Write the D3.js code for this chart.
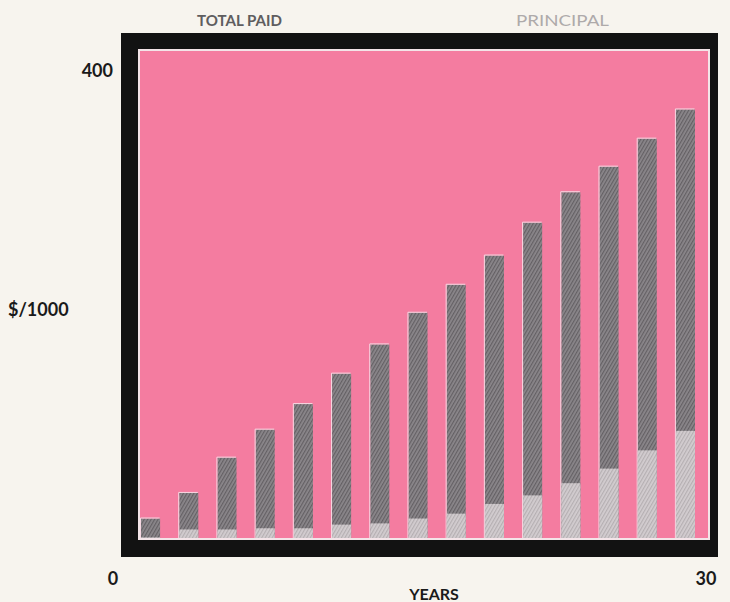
<!DOCTYPE html>
<html>
<head>
<meta charset="utf-8">
<script src="https://cdn.jsdelivr.net/npm/d3@7/dist/d3.min.js"></script>
<style>
  body { margin: 0; background: #f7f4ee; }
  svg { display: block; }
  text { font-family: Lato, "DejaVu Sans", sans-serif; }
</style>
</head>
<body>
<div id="chart"></div>
<script>
// years shown by the bars (every 2 years)
var years = [2, 4, 6, 8, 10, 12, 14, 16, 18, 20, 22, 24, 26, 28, 30];
// total paid, $/1000
var totalPaid = [16, 37, 66, 89, 110, 135, 159, 185, 208, 232, 259, 284, 305, 328, 352];
// principal paid, $/1000
var principal = [0.5, 7, 7, 8, 8, 11, 12, 16, 20, 28, 35, 45, 57, 72, 88];
// axis labels
var yTicks = ["0", "400"];
var xTicks = ["0", "30"];

var W = 730, H = 602;

var svg = d3.select("#chart").append("svg")
    .attr("width", W)
    .attr("height", H);

// hatch patterns for the bars
var defs = svg.append("defs");
function hatch(id, base, line) {
    var p = defs.append("pattern")
        .attr("id", id)
        .attr("patternUnits", "userSpaceOnUse")
        .attr("width", 3)
        .attr("height", 3)
        .attr("patternTransform", "rotate(30)");
    p.append("rect").attr("width", 3).attr("height", 3).attr("fill", base);
    p.append("rect").attr("width", 1.2).attr("height", 3).attr("fill", line);
}
hatch("darkHatch", "#8b878b", "#646064");
hatch("lightHatch", "#d3cdd0", "#b5afb2");

// plot area (pink) inside black frame
var plot = {left: 140, right: 708, top: 51, bottom: 538};

svg.append("rect")
    .attr("x", 121).attr("y", 33)
    .attr("width", 597).attr("height", 524)
    .attr("fill", "#121212");
svg.append("rect")
    .attr("x", plot.left - 2).attr("y", plot.top - 2)
    .attr("width", plot.right - plot.left + 4).attr("height", plot.bottom - plot.top + 4)
    .attr("fill", "#f3e4e8");
svg.append("rect")
    .attr("x", plot.left).attr("y", plot.top)
    .attr("width", plot.right - plot.left).attr("height", plot.bottom - plot.top)
    .attr("fill", "#f47ca0");

// scales
var x = d3.scaleBand()
    .domain(years)
    .range([141, 695])
    .paddingInner(0.5)
    .paddingOuter(0);

var y = d3.scaleLinear()
    .domain([0, 400])
    .range([plot.bottom, plot.top]);

var data = years.map(function (d, i) {
    return {year: d, total: totalPaid[i], principal: principal[i]};
});

// total paid bars
svg.selectAll(".total")
    .data(data)
    .enter()
    .append("rect")
    .attr("class", "total")
    .attr("x", function (d) { return x(d.year); })
    .attr("y", function (d) { return y(d.total); })
    .attr("width", x.bandwidth())
    .attr("height", function (d) { return y(0) - y(d.total); })
    .attr("fill", "url(#darkHatch)");

// small light edge on the left/top of each bar
svg.selectAll(".edge")
    .data(data)
    .enter()
    .append("path")
    .attr("class", "edge")
    .attr("d", function (d) {
        var x0 = x(d.year) - 0.5, y0 = y(d.total) - 0.5;
        return "M" + x0 + "," + y(0) + "V" + y0 + "H" + (x0 + x.bandwidth());
    })
    .attr("fill", "none")
    .attr("stroke", "#f6d8e2")
    .attr("stroke-width", 1);

// principal bars
svg.selectAll(".principal")
    .data(data)
    .enter()
    .append("rect")
    .attr("class", "principal")
    .attr("x", function (d) { return x(d.year); })
    .attr("y", function (d) { return y(d.principal); })
    .attr("width", x.bandwidth())
    .attr("height", function (d) { return y(0) - y(d.principal); })
    .attr("fill", "url(#lightHatch)");

// legend labels
svg.append("text")
    .attr("x", 197).attr("y", 26)
    .attr("textLength", 85).attr("lengthAdjust", "spacingAndGlyphs")
    .attr("font-size", 16).attr("font-weight", "bold")
    .attr("fill", "#5f5d5f")
    .text("TOTAL PAID");

svg.append("text")
    .attr("x", 516).attr("y", 26)
    .attr("textLength", 93).attr("lengthAdjust", "spacingAndGlyphs")
    .attr("font-size", 16)
    .attr("fill", "#aeaaaa")
    .text("PRINCIPAL");

// axis labels
svg.append("text")
    .attr("x", 113).attr("y", 77)
    .attr("text-anchor", "end")
    .attr("font-size", 18).attr("font-weight", "bold")
    .attr("fill", "#1a1a1a")
    .text(yTicks[1]);

svg.append("text")
    .attr("x", 8).attr("y", 316)
    .attr("font-size", 18).attr("font-weight", "bold")
    .attr("fill", "#1a1a1a")
    .text("$/1000");

svg.append("text")
    .attr("x", 113).attr("y", 585)
    .attr("text-anchor", "middle")
    .attr("font-size", 18).attr("font-weight", "bold")
    .attr("fill", "#1a1a1a")
    .text(xTicks[0]);

svg.append("text")
    .attr("x", 706).attr("y", 585)
    .attr("text-anchor", "middle")
    .attr("font-size", 18).attr("font-weight", "bold")
    .attr("fill", "#1a1a1a")
    .text(xTicks[1]);

svg.append("text")
    .attr("x", 434).attr("y", 600)
    .attr("text-anchor", "middle")
    .attr("font-size", 16).attr("font-weight", "bold")
    .attr("fill", "#1a1a1a")
    .text("YEARS");
</script>
</body>
</html>
